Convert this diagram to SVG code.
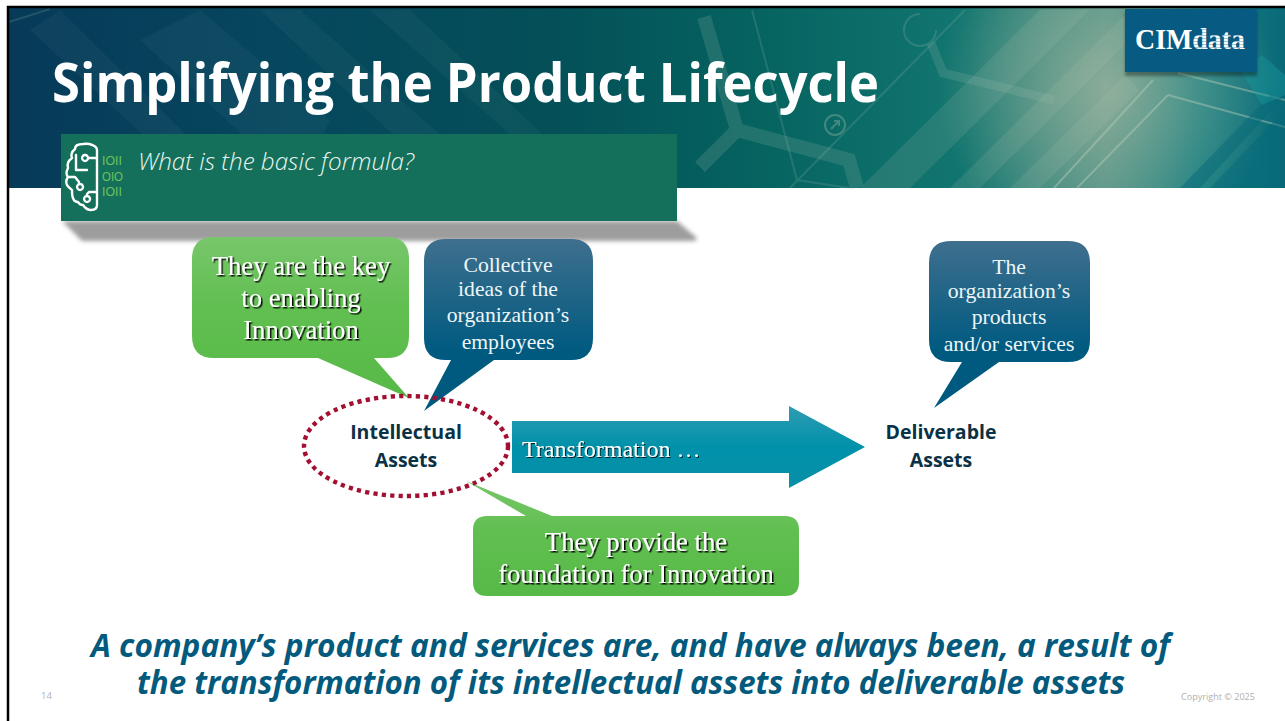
<svg xmlns="http://www.w3.org/2000/svg" width="1285" height="721" viewBox="0 0 1285 721">
<style>
.ser{font-family:"Liberation Serif","Times New Roman",serif;text-anchor:middle}
.seg{font-family:"Open Sans","Noto Sans",sans-serif}
.w{fill:#eef6f8;font-size:21.7px}
.g{fill:#fff;font-size:26.7px;filter:url(#ts)}
.lab{fill:#0b3145;font-size:19.5px;font-weight:700;text-anchor:middle}
.deco{fill:none;stroke:#a9c4b2;stroke-opacity:.18}
.bin{fill:#6cc35a;font-size:13px;font-family:"Liberation Sans",Arial,sans-serif}
.brain{fill:none;stroke:#fff;stroke-width:2.4;stroke-linecap:round;stroke-linejoin:round}
</style>
<defs>
<linearGradient id="ban" x1="0" x2="1" y1="0" y2="0">
<stop offset="0" stop-color="#063a58"/><stop offset=".2" stop-color="#06465e"/><stop offset=".42" stop-color="#044f58"/><stop offset=".58" stop-color="#05625f"/><stop offset=".75" stop-color="#127670"/><stop offset=".86" stop-color="#4a9085"/><stop offset=".93" stop-color="#137e80"/><stop offset="1" stop-color="#0a6a78"/>
</linearGradient>
<radialGradient id="glow" gradientUnits="userSpaceOnUse" cx="1107" cy="87" r="170"><stop offset="0" stop-color="#a6b8a0" stop-opacity=".7"/><stop offset="1" stop-color="#a6b8a0" stop-opacity="0"/></radialGradient>
<linearGradient id="gr" x1="0" x2="0" y1="0" y2="1"><stop offset="0" stop-color="#78c66b"/><stop offset=".45" stop-color="#60bf50"/><stop offset="1" stop-color="#57b947"/></linearGradient>
<linearGradient id="bl" x1="0" x2="0" y1="0" y2="1"><stop offset="0" stop-color="#3f6f8e"/><stop offset=".65" stop-color="#005a80"/><stop offset="1" stop-color="#005a80"/></linearGradient>
<linearGradient id="ar" x1="0" x2="0" y1="0" y2="1"><stop offset="0" stop-color="#2f9cb2"/><stop offset=".5" stop-color="#0091aa"/><stop offset="1" stop-color="#0890a8"/></linearGradient>
<pattern id="stripe" width="4" height="3" patternUnits="userSpaceOnUse"><rect width="4" height="2" fill="#fff"/><rect y="2" width="4" height="1" fill="#a9c6d6"/></pattern>
<filter id="ts" x="-10%" y="-20%" width="120%" height="140%"><feDropShadow dx="1.5" dy="1.5" stdDeviation=".7" flood-color="#000" flood-opacity=".95"/></filter>
<filter id="ts2" x="-10%" y="-20%" width="120%" height="140%"><feDropShadow dx="1" dy="1" stdDeviation=".5" flood-color="#000" flood-opacity=".8"/></filter>
<filter id="blur" x="-5%" y="-30%" width="110%" height="160%"><feGaussianBlur stdDeviation="2"/></filter>
<filter id="blur1" x="-10%" y="-10%" width="120%" height="130%"><feGaussianBlur stdDeviation="1.5"/></filter>
</defs>
<rect width="1285" height="721" fill="#fff"/>
<g id="banner">
<rect x="7" y="6" width="1278" height="182" fill="url(#ban)"/>
<rect x="7" y="6" width="1278" height="182" fill="url(#glow)"/>
<path d="M860 188L1040 10H1090L910 188ZM950 188L1130 10H1160L980 188ZM1010 188L1125 75L1140 90L1040 188Z" fill="#b5c9b0" fill-opacity=".14"/>
<path d="M60 10L240 188H200L30 30ZM200 10L330 120L300 188L140 40ZM300 10L500 188H450L260 10ZM410 10L600 188H570L370 10Z" fill="#a8c8c8" fill-opacity=".05"/>
<path class="deco" stroke-width="14" d="M704 17L737 130L849 160L857 188M737 130L700 167"/>
<path class="deco" stroke-width="9" d="M931 43L943 73L1054 100"/>
<path class="deco" stroke-width="2" d="M9 22L50 9M752 10L797 180L849 188M965 10L790 188"/>
<path d="M1153 80L1054 188M1168 95L1077 188M1168 95L1285 127M1178 73L1285 100" fill="none" stroke="#b5cdb8" stroke-opacity=".45" stroke-width="2"/>
<path d="M920 14a16 16 0 1 0 16 16" fill="none" stroke="#a9c4b2" stroke-opacity=".2" stroke-width="2"/>
<circle cx="835" cy="125" r="10" fill="none" stroke="#a9c4b2" stroke-opacity=".35" stroke-width="2"/>
<path d="M831 129L839 121M834 121H839V126" fill="none" stroke="#a9c4b2" stroke-opacity=".35" stroke-width="2"/>
<path d="M1210 188L1285 110V188ZM1180 188L1285 80V95L1200 188Z" fill="#06697a" fill-opacity=".5"/>
<path d="M1240 70L1262 55L1285 75V95L1262 105Z" fill="#1a9aa0" fill-opacity=".4"/>
</g>
<path d="M8 721V7H1285" fill="none" stroke="#000" stroke-width="2.5"/>
<g id="logo">
<rect x="1125" y="10" width="132" height="64" fill="#000" opacity=".35" filter="url(#blur1)" transform="translate(0 2)"/>
<rect x="1125" y="9" width="132" height="63" fill="#075a82"/>
<text x="1135" y="49" font-family="'Liberation Serif',serif" font-size="30" font-weight="700" fill="#fff" textLength="110" lengthAdjust="spacingAndGlyphs">CIM<tspan fill="url(#stripe)">data</tspan></text>
</g>
<text id="title" class="seg" x="52" y="102" font-size="54" font-weight="700" fill="#fff" textLength="827" lengthAdjust="spacingAndGlyphs">Simplifying the Product Lifecycle</text>
<g id="subtitle">
<path d="M62 221H677L697 238L695 241H82Z" fill="#8c8c8c" opacity=".85" filter="url(#blur)"/>
<rect x="61" y="134" width="616" height="87" fill="#14705a"/>
<path class="brain" d="M97 150C97 146 90 143 83 144C78 144 75 146 75 149C71 152 71 156 72 158C68 161 67 165 68 168C66 172 66 175 68 177C66 180 66 183 67 185C69 188 71 189 72 190C72 194 72 196 73 198C74 201 76 202 78 202C79 204 81 205 83 205C85 208 88 210 91 210C95 210 97 208 97 205ZM96 158H88M85 155a3 3 0 1 0 .1 0M76 155V170H87M68 177H75L79 182V184M80 184a3 3 0 1 0 .1 0M96 192H89L87 194V196M87 196a3 3 0 1 0 .1 0"/>
<text class="bin" x="102" y="165" textLength="20" lengthAdjust="spacingAndGlyphs">IOII</text>
<text class="bin" x="102" y="181" textLength="21" lengthAdjust="spacingAndGlyphs">OIO</text>
<text class="bin" x="102" y="196" textLength="20" lengthAdjust="spacingAndGlyphs">IOII</text>
<text class="seg" x="138" y="170" font-size="23.5" font-weight="300" font-style="italic" fill="#eaf5f0" textLength="276" lengthAdjust="spacingAndGlyphs">What is the basic formula?</text>
</g>
<g id="callout-key">
<path d="M214 237H387Q409 237 409 259V336Q409 358 387 358H374L409 398L318 358H214Q192 358 192 336V259Q192 237 214 237Z" fill="url(#gr)"/>
<g class="ser g"><text x="301" y="275">They are the key</text><text x="301" y="307">to enabling</text><text x="301" y="339">Innovation</text></g>
</g>
<g id="callout-ideas">
<path d="M446 239H571Q593 239 593 261V338Q593 360 571 360H494L424 411L451 360H446Q424 360 424 338V261Q424 239 446 239Z" fill="url(#bl)"/>
<g class="ser w"><text x="508" y="272">Collective</text><text x="508" y="296">ideas of the</text><text x="508" y="322">organization’s</text><text x="508" y="349">employees</text></g>
</g>
<g id="callout-org">
<path d="M951 241H1068Q1090 241 1090 263V340Q1090 362 1068 362H999L934 408L962 362H951Q929 362 929 340V263Q929 241 951 241Z" fill="url(#bl)"/>
<g class="ser w"><text x="1009" y="274">The</text><text x="1009" y="298">organization’s</text><text x="1009" y="324">products</text><text x="1009" y="351">and/or services</text></g>
</g>
<g id="callout-foundation">
<path d="M466 481L552 516H785Q799 516 799 530V582Q799 596 785 596H487Q473 596 473 582V530Q473 516 487 516H526Z" fill="url(#gr)"/>
<g class="ser g"><text x="636" y="551">They provide the</text><text x="636" y="583">foundation for Innovation</text></g>
</g>
<g id="intellectual">
<ellipse cx="406" cy="446" rx="102" ry="50" fill="none" stroke="#a30f30" stroke-width="4.4" stroke-dasharray="4.2 4.2"/>
<text class="seg lab" x="406" y="439">Intellectual</text>
<text class="seg lab" x="406" y="467">Assets</text>
</g>
<g id="connectors">
<path d="M512 421H789V406L865 447L789 488V473H512Z" fill="url(#ar)"/>
<text x="522" y="457" font-family="'Liberation Serif',serif" font-size="24" fill="#fff" filter="url(#ts2)">Transformation …</text>
</g>
<g id="deliverable">
<text class="seg lab" x="941" y="439">Deliverable</text>
<text class="seg lab" x="941" y="467">Assets</text>
</g>
<g id="summary" class="seg" font-size="31.5" font-weight="700" font-style="italic" fill="#035a7c">
<text><tspan x="91" y="657" textLength="1079" lengthAdjust="spacingAndGlyphs">A company’s product and services are, and have always been, a result of</tspan><tspan x="137" y="694" textLength="988" lengthAdjust="spacingAndGlyphs">the transformation of its intellectual assets into deliverable assets</tspan></text>
</g>
<g id="footer" class="seg" font-size="9.5" fill="#b0b0b0">
<text x="41" y="699">14</text>
<text x="1181" y="700" textLength="74" lengthAdjust="spacingAndGlyphs">Copyright © 2025</text>
</g>
</svg>
